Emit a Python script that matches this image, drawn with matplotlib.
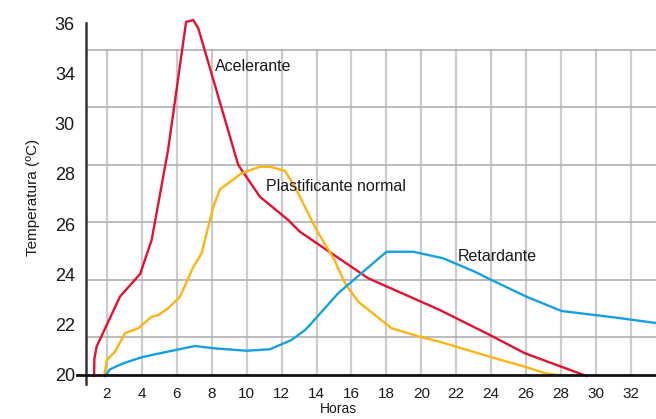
import numpy as np
import matplotlib
matplotlib.use('Agg')
import matplotlib.pyplot as plt

plt.rcParams['font.family'] = ['Liberation Sans Narrow', 'Liberation Sans', 'DejaVu Sans']

# Acelerante (horas, temperatura)
acel_h = [1.26, 1.28, 1.41, 2.75, 3.9, 4.56, 5.5, 6.53, 6.94, 7.23, 9.52, 10.76,
          12.38, 13.05, 16.96, 21.06, 23.93, 25.93, 29.46]
acel_t = [19.92, 20.6, 21.1, 23.1, 24.0, 25.36, 28.96, 34.08, 34.16, 33.83, 28.36, 27.09,
          26.16, 25.69, 23.83, 22.56, 21.56, 20.83, 19.92]

# Plastificante normal
plast_h = [1.85, 1.99, 2.46, 3.03, 3.8, 4.56, 4.94, 5.51, 6.18, 6.91, 7.42, 7.61, 8.09,
           8.47, 9.14, 9.71, 10.76, 11.33, 12.19, 12.76, 14.0, 15.0, 15.63, 16.39, 18.3,
           19.92, 21.06, 23.93, 25.93, 27.17, 27.93]
plast_t = [19.92, 20.56, 20.89, 21.63, 21.83, 22.29, 22.36, 22.63, 23.09, 24.23, 24.83,
           25.36, 26.69, 27.39, 27.73, 28.03, 28.29, 28.29, 28.13, 27.49, 25.76, 24.6,
           23.63, 22.89, 21.83, 21.49, 21.29, 20.69, 20.29, 20.02, 19.95]

# Retardante
ret_h = [1.89, 2.18, 2.94, 3.99, 5.04, 7.04, 8.09, 10.0, 11.33, 12.57, 13.34, 13.62,
         15.24, 16.67, 18.01, 19.54, 21.25, 23.07, 23.93, 26.03, 28.03, 30.99, 33.43]
ret_t = [19.92, 20.19, 20.43, 20.67, 20.83, 21.12, 21.03, 20.93, 20.99, 21.36, 21.76, 21.96,
         23.23, 24.09, 24.89, 24.89, 24.63, 24.09, 23.79, 23.09, 22.52, 22.27, 22.04]

x_ticks = list(range(2, 33, 2))
y_ticks = [20, 22, 24, 26, 28, 30, 32, 34]
y_tick_labels = ['20', '22', '24', '26', '28', '30', '34', '36']

W, H = 656, 419
fig = plt.figure(figsize=(W / 100, H / 100), dpi=100)
ax = fig.add_axes([86 / W, (H - 376) / H, (W - 86) / W, (376 - 23) / H])

y_min, y_max = 19.92, 34.04
x_min, x_max = 0.8, 33.44
ax.set_xlim(x_min, x_max)
ax.set_ylim(y_min, y_max)

# rejilla
grid_top = 32.96
for h in x_ticks:
    ax.plot([h, h], [y_min, grid_top], color='#cccccc', lw=1.6, zorder=1)
for t in np.linspace(21.48, grid_top, 6):
    ax.axhline(t, color='#b0b0b0', lw=1.2, zorder=1)

ax.plot(acel_h, acel_t, color='#e3112f', lw=1.7, zorder=3, clip_on=False)
ax.plot(plast_h, plast_t, color='#fbb414', lw=1.7, zorder=3, clip_on=False)
ax.plot(ret_h, ret_t, color='#17a0e0', lw=1.7, zorder=3, clip_on=False)

ax.text(8.2, 32.3, 'Acelerante', fontsize=11.5, va='center', ha='left', color='#1a1a1a')
ax.text(11.1, 27.5, 'Plastificante normal', fontsize=11.5, va='center', ha='left', color='#1a1a1a')
ax.text(22.1, 24.7, 'Retardante', fontsize=11.5, va='center', ha='left', color='#1a1a1a')

for s in ax.spines.values():
    s.set_visible(False)
# ejes
ax.plot([0, 0], [-0.022, 1], transform=ax.transAxes, color='#333333', lw=1.8,
        clip_on=False, zorder=4)
ax.plot([-0.016, 1], [0.003, 0.003], transform=ax.transAxes, color='#111111', lw=2.0,
        clip_on=False, zorder=4)

ax.set_xticks(x_ticks)
ax.set_xticklabels([str(v) for v in x_ticks], fontsize=11)
ax.set_yticks(y_ticks)
ax.set_yticklabels(y_tick_labels, fontsize=13)
ax.tick_params(axis='both', length=0, colors='#1a1a1a')
ax.tick_params(axis='x', pad=8)
ax.tick_params(axis='y', pad=8)

fig.text(33 / W, 1 - 197 / H, 'Temperatura (ºC)', rotation=90, fontsize=11,
         ha='center', va='center', color='#1a1a1a')
fig.text(338 / W, 1 - 409 / H, 'Horas', fontsize=10, ha='center', va='center',
         color='#1a1a1a')

fig.savefig('out.png', dpi=100)
